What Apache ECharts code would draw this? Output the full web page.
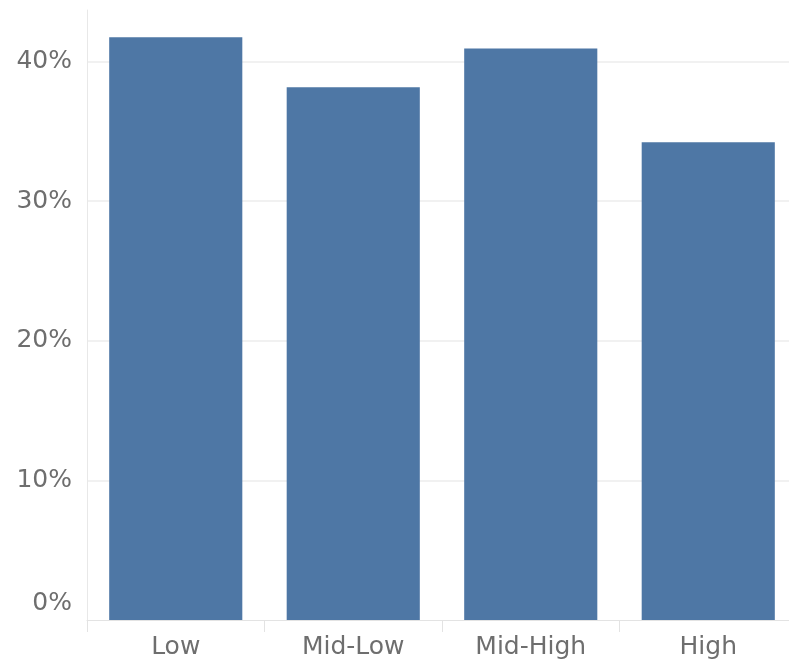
<!DOCTYPE html>
<html>
<head>
<meta charset="utf-8">
<script src="https://cdn.jsdelivr.net/npm/echarts@6/dist/echarts.min.js"></script>
<style>
html,body{margin:0;padding:0;background:#fff;overflow:hidden;}
#chart{width:800px;height:662px;}
</style>
</head>
<body>
<div id="chart"></div>
<script>
var categories = ['Low', 'Mid-Low', 'Mid-High', 'High'];
var shareValues = [41.74, 38.16, 40.95, 34.22];
var yTickValues = [0, 10, 20, 30, 40];

var chart = echarts.init(document.getElementById('chart'));
var font = 'DejaVu Sans';
chart.setOption({
  animation: false,
  backgroundColor: '#ffffff',
  grid: { left: 87, top: 10, right: 3, bottom: 42, containLabel: false },
  xAxis: {
    type: 'category',
    data: categories,
    boundaryGap: true,
    axisLine: { show: true, lineStyle: { color: '#e3e3e3', width: 1 } },
    axisTick: { show: true, length: 12, lineStyle: { color: '#e3e3e3' } },
    axisLabel: { color: '#6e6e6e', fontFamily: font, fontSize: 25, margin: 15 },
    splitLine: { show: false }
  },
  yAxis: {
    type: 'value',
    min: 0,
    max: 43.7,
    interval: 10,
    axisLine: { show: true, lineStyle: { color: '#e8e8e8', width: 1 } },
    axisTick: { show: false },
    splitLine: { show: true, showMinLine: false, showMaxLine: false, lineStyle: { color: '#f1f1f1', width: 2 } },
    axisLabel: {
      showMaxLabel: false,
      margin: 15,
      color: '#6e6e6e',
      fontFamily: font,
      fontSize: 25,
      formatter: function (v) {
        if (yTickValues.indexOf(v) < 0) return '';
        return v === 0 ? '{z|0%}' : v + '%';
      },
      rich: { z: { fontFamily: font, fontSize: 25, color: '#6e6e6e', padding: [0, 0, 34, 0] } }
    }
  },
  series: [{
    type: 'bar',
    data: shareValues,
    barCategoryGap: '25%',
    itemStyle: { color: '#4e77a5' }
  }]
});
</script>
</body>
</html>
